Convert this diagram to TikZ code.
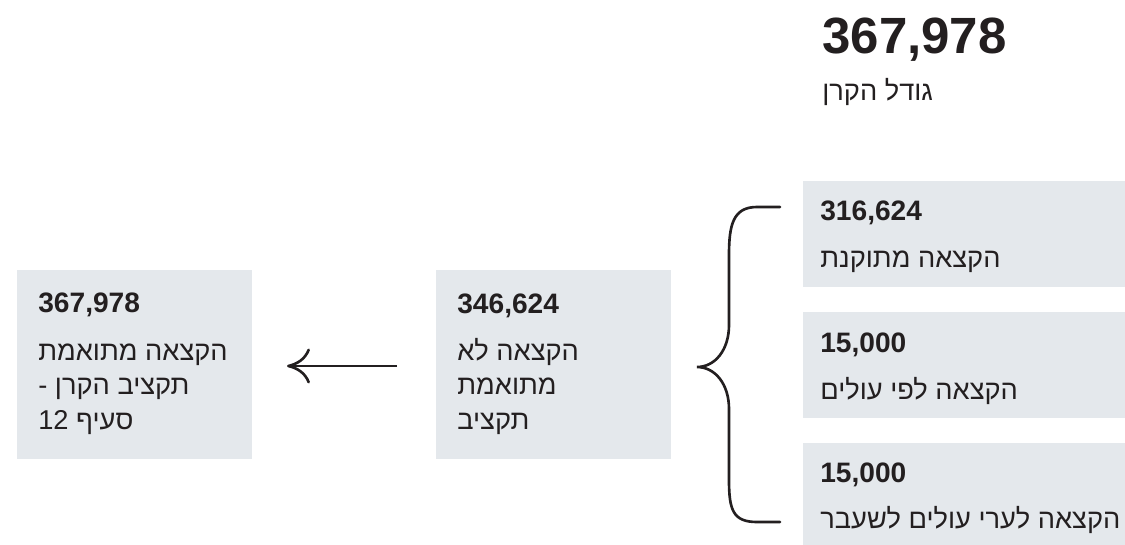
\documentclass[tikz,border=0pt]{standalone}
\usepackage{fontspec}
\setmainfont{Liberation Sans}
\newfontfamily\hebfont[Script=Hebrew]{Liberation Sans}
\TeXXeTstate=1
\usepackage{tikz}
\usetikzlibrary{positioning,arrows.meta,calc}
\definecolor{PanelGray}{HTML}{E4E8EC}
\definecolor{InkBlack}{HTML}{231F20}
% lines of a caption, first baseline on the node's base
\newcommand{\rtllines}[1]{\begin{tabular}[t]{@{}l@{}}#1\end{tabular}}

\begin{document}
\begin{tikzpicture}[
  >={Computer Modern Rightarrow[length=4.6mm,width=7mm]},
  panel/.style={
    fill=PanelGray, draw=none, minimum width=4.7cm, minimum height=3.78cm,
    inner sep=0pt, outer sep=0pt
  },
  sidepanel/.style={panel, minimum width=6.74cm, minimum height=2.12cm},
  amount/.style={
    font=\fontsize{16}{19}\selectfont\bfseries, text=InkBlack,
    anchor=base west, inner sep=0pt
  },
  caption/.style={
    font=\hebfont\fontsize{15.5}{19.9}\selectfont, text=InkBlack,
    anchor=base west, inner sep=0pt
  },
  flow/.style={draw=InkBlack, line width=1.5pt},
]
\useasboundingbox (0,0) rectangle (22.5,-10.88);
\clip (0,0) rectangle (22.5,-10.88);

% ---------- Total (top right) ----------
\node[amount, font=\fontsize{29}{34}\selectfont\bfseries] (total) at (16.44,-1.06) {367,978};
\node[caption] (totallbl) at (16.44,-2.0) {\beginR גודל הקרן\endR};

% ---------- Boxes ----------
\node[panel] (matched)   at (2.69,-7.29) {};
\node[panel] (unmatched) at (11.07,-7.29) {};
\node[sidepanel] (fixed)  at (19.43,-4.68) {};
\node[sidepanel] (olim)   at (19.43,-7.29) {};
\node[sidepanel] (former) at (19.43,-9.92) {};

% ---------- Amounts and captions ----------
\node[amount] (matchednum) at ([shift={(0.42,-0.84)}]matched.north west) {367,978};
\node[caption] (matchedlbl) at ([shift={(0,-0.96)}]matchednum.base west)
  {\rtllines{\beginR הקצאה מתואמת\endR\\\beginR תקציב הקרן -\endR\\\beginR סעיף 12\endR}};

\node[amount] (unmatchednum) at ([shift={(0.42,-0.86)}]unmatched.north west) {346,624};
\node[caption] (unmatchedlbl) at ([shift={(0,-0.94)}]unmatchednum.base west)
  {\rtllines{\beginR הקצאה לא\endR\\\beginR מתואמת\endR\\\beginR תקציב\endR}};

\node[amount] (fixednum) at ([shift={(0.34,-0.78)}]fixed.north west) {316,624};
\node[caption] (fixedlbl) at ([shift={(0,-0.94)}]fixednum.base west) {\beginR הקצאה מתוקנת\endR};

\node[amount] (olimnum) at ([shift={(0.34,-0.82)}]olim.north west) {15,000};
\node[caption] (olimlbl) at ([shift={(0,-0.94)}]olimnum.base west) {\beginR הקצאה לפי עולים\endR};

\node[amount] (formernum) at ([shift={(0.34,-0.78)}]former.north west) {15,000};
\node[caption] (formerlbl) at ([shift={(0,-0.92)}]formernum.base west) {\beginR הקצאה לערי עולים לשעבר\endR};

% ---------- Brace over the three parts ----------
\draw[flow, line cap=round]
  (15.6,-4.14) -- (15.14,-4.14)
  .. controls (14.66,-4.14) and (14.58,-4.5) .. (14.58,-5.1)
  -- (14.58,-6.5)
  .. controls (14.58,-7.0) and (14.3,-7.34) .. (13.94,-7.34)
  .. controls (14.3,-7.34) and (14.58,-7.68) .. (14.58,-8.18)
  -- (14.58,-9.6)
  .. controls (14.58,-10.2) and (14.66,-10.44) .. (15.14,-10.44)
  -- (15.6,-10.44);

% ---------- Arrow ----------
\draw[flow, ->, shorten <=0.78cm, shorten >=0.7cm]
  ([yshift=-0.03cm]unmatched.west) -- ([yshift=-0.03cm]matched.east);

\end{tikzpicture}
\end{document}
